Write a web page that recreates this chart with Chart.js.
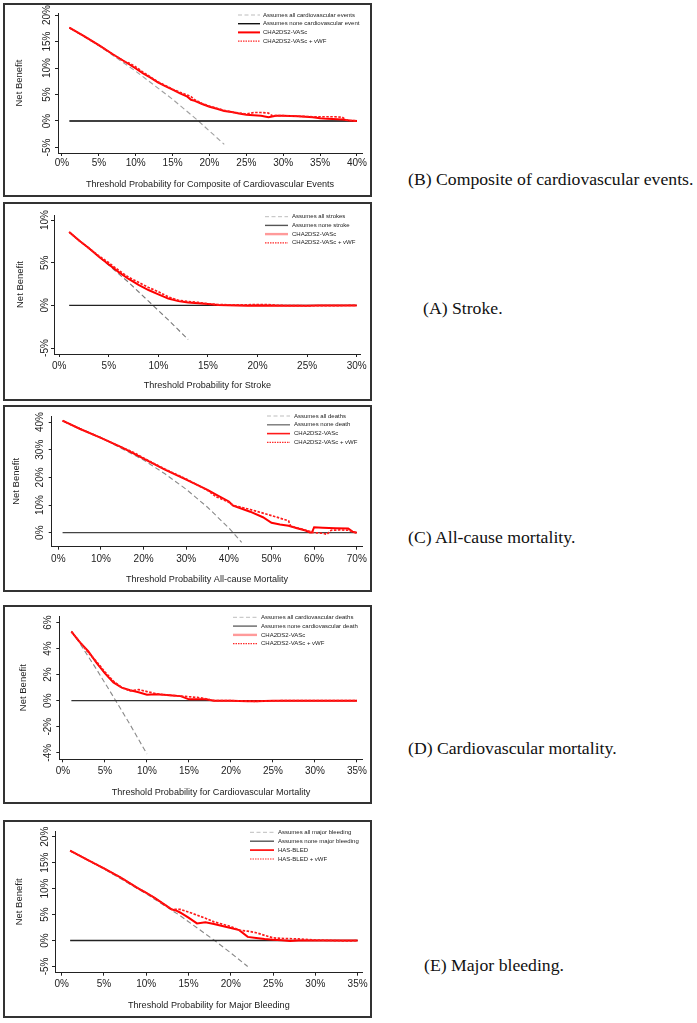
<!DOCTYPE html>
<html>
<head>
<meta charset="utf-8">
<script src="https://cdn.jsdelivr.net/npm/chart.js@4.4.0/dist/chart.umd.min.js"></script>
<style>
  html, body { margin: 0; padding: 0; background: #fff; }
  body { width: 697px; height: 1023px; position: relative; overflow: hidden; }
  .panel { position: absolute; border: 2px solid #333; box-sizing: border-box; }
  .panel canvas { position: absolute; left: 0; top: 0; }
  .caption { position: absolute; font-family: "Liberation Serif", "Times New Roman", serif;
    font-size: 17.7px; line-height: 20px; color: #111; white-space: nowrap; }
</style>
</head>
<body>
<div class="panel" id="pB"><canvas id="cB"></canvas></div>
<div class="panel" id="pA"><canvas id="cA"></canvas></div>
<div class="panel" id="pC"><canvas id="cC"></canvas></div>
<div class="panel" id="pD"><canvas id="cD"></canvas></div>
<div class="panel" id="pE"><canvas id="cE"></canvas></div>

<div class="caption" style="left:408px;top:169px">(B) Composite of cardiovascular events.</div>
<div class="caption" style="left:423px;top:298px">(A) Stroke.</div>
<div class="caption" style="left:408px;top:527px">(C) All-cause mortality.</div>
<div class="caption" style="left:408px;top:738px">(D) Cardiovascular mortality.</div>
<div class="caption" style="left:424px;top:955px">(E) Major bleeding.</div>

<script>
'use strict';

// ---- (B) composite of cardiovascular events ----
var bXTicks = [0, 5, 10, 15, 20, 25, 30, 35, 40];
var bYTicks = [-5, 0, 5, 10, 15, 20];
var bAllX = [1, 5, 10, 15, 18.5, 20, 22];
var bAllY = [17.6, 14.2, 9.4, 4.1, 0, -1.9, -4.4];
var bNoneX = [1, 40];
var bNoneY = [0, 0];
var bScoreX = [1, 3, 5, 7, 9, 10, 11, 12, 13, 14, 15, 16, 17, 17.5, 18, 19, 20, 21, 22, 23, 24, 25, 26, 27, 28, 29, 30, 32, 34, 35, 36, 38, 39, 40];
var bScoreY = [17.6, 16.0, 14.3, 12.5, 10.8, 9.9, 9.0, 8.2, 7.3, 6.6, 5.9, 5.2, 4.6, 4.0, 3.8, 3.2, 2.7, 2.3, 1.9, 1.7, 1.4, 1.2, 1.1, 1.0, 0.7, 1.0, 1.0, 0.9, 0.7, 0.5, 0.4, 0.3, 0.1, 0.0];
var bVwfX = [1, 3, 5, 7, 8.5, 9, 10, 11, 12, 13, 14, 15, 16, 17, 17.5, 18, 19, 20, 21, 22, 23, 24, 25, 26, 27, 28, 28.5, 30, 32, 34, 35, 36, 37, 38, 38.5, 40];
var bVwfY = [17.6, 16.0, 14.3, 12.5, 11.2, 11.0, 10.2, 9.2, 8.3, 7.4, 6.7, 6.0, 5.4, 4.9, 4.6, 4.0, 3.3, 2.8, 2.4, 2.0, 1.7, 1.5, 1.3, 1.6, 1.6, 1.5, 1.0, 1.0, 0.9, 0.8, 0.8, 0.8, 0.8, 0.7, 0.2, 0.0];
var bLegend = ['Assumes all cardiovascular events', 'Assumes none cardiovascular event', 'CHA2DS2-VASc', 'CHA2DS2-VASc + vWF'];

// ---- (A) stroke ----
var aXTicks = [0, 5, 10, 15, 20, 25, 30];
var aYTicks = [-5, 0, 5, 10];
var aAllX = [1, 3, 5, 7, 9, 11, 13];
var aAllY = [8.6, 6.7, 4.7, 2.7, 0.5, -1.7, -4.0];
var aNoneX = [1, 30];
var aNoneY = [0, 0];
var aScoreX = [1, 2, 3, 4, 5, 6, 7, 8, 9, 10, 11, 12, 13, 14, 15, 16, 17, 18, 19, 20, 22, 25, 26, 30];
var aScoreY = [8.6, 7.6, 6.7, 5.7, 4.8, 3.9, 3.1, 2.4, 1.8, 1.3, 0.8, 0.5, 0.35, 0.25, 0.15, 0.05, 0.02, 0, -0.05, 0, -0.05, -0.05, 0, 0];
var aVwfX = [1, 2, 3, 4, 5, 6, 7, 8, 9, 10, 11, 12, 13, 14, 15, 16, 18, 20, 21, 22, 25, 30];
var aVwfY = [8.6, 7.6, 6.7, 5.8, 5.0, 4.1, 3.3, 2.7, 2.1, 1.6, 1.0, 0.6, 0.45, 0.35, 0.2, 0.1, 0.05, 0.1, 0.1, 0, -0.05, 0];
var aLegend = ['Assumes all strokes', 'Assumes none stroke', 'CHA2DS2-VASc', 'CHA2DS2-VASc + vWF'];

// ---- (C) all-cause mortality ----
var cXTicks = [0, 10, 20, 30, 40, 50, 60, 70];
var cYTicks = [0, 10, 20, 30, 40];
var cAllX = [1, 10, 20, 25, 30, 35, 40, 43];
var cAllY = [40.4, 34.4, 26.3, 21.3, 15.7, 9.2, 1.7, -3.5];
var cNoneX = [1, 70];
var cNoneY = [0, 0];
var cScoreX = [1, 5, 10, 15, 20, 25, 30, 35, 37, 40, 41, 45, 48, 50, 52, 54, 56, 58, 59, 59.5, 60, 62, 65, 68, 69, 70];
var cScoreY = [40.5, 37.6, 34.3, 30.8, 26.8, 22.8, 19.2, 15.5, 13.8, 11.3, 9.8, 7.6, 5.6, 3.6, 3.0, 2.5, 1.6, 0.8, 0.1, 0.1, 2.0, 1.8, 1.6, 1.5, 0.4, 0];
var cVwfX = [1, 5, 10, 15, 18, 20, 25, 30, 35, 36, 37, 38, 40, 41, 45, 50, 54, 54.5, 56, 58, 60, 62, 63, 64, 66, 68, 69, 70];
var cVwfY = [40.5, 37.6, 34.3, 30.8, 28.8, 27.0, 23.0, 19.4, 15.3, 14.2, 13.0, 12.4, 11.0, 9.9, 8.4, 6.2, 4.3, 2.4, 1.8, 0.9, 0.0, -0.2, -0.6, 0.9, 1.0, 0.9, 0.3, 0];
var cLegend = ['Assumes all deaths', 'Assumes none death', 'CHA2DS2-VASc', 'CHA2DS2-VASc + vWF'];

// ---- (D) cardiovascular mortality ----
var dXTicks = [0, 5, 10, 15, 20, 25, 30, 35];
var dYTicks = [-4, -2, 0, 2, 4, 6];
var dAllX = [1, 2, 4, 6, 8, 10];
var dAllY = [5.35, 4.4, 2.4, 0.3, -1.85, -4.1];
var dNoneX = [1, 35];
var dNoneY = [0, 0];
var dScoreX = [1, 2, 3, 4, 5, 6, 7, 8, 9, 10, 11, 12, 13, 14, 15, 16, 17, 18, 20, 22, 23, 25, 35];
var dScoreY = [5.3, 4.5, 3.8, 2.9, 2.1, 1.4, 1.0, 0.8, 0.65, 0.45, 0.5, 0.45, 0.4, 0.35, 0.1, 0.1, 0.1, 0.0, 0, -0.05, -0.05, 0, 0];
var dVwfX = [1, 2, 3, 4, 5, 6, 7, 8, 9, 10, 11, 12, 13, 14, 15, 16, 17, 18, 20, 23, 26, 30, 35];
var dVwfY = [5.3, 4.5, 3.7, 3.0, 2.2, 1.5, 1.0, 0.75, 0.85, 0.7, 0.55, 0.45, 0.4, 0.35, 0.3, 0.25, 0.15, 0.0, 0, -0.05, 0, 0, 0];
var dLegend = ['Assumes all cardiovascular deaths', 'Assumes none cardiovascular death', 'CHA2DS2-VASc', 'CHA2DS2-VASc + vWF'];

// ---- (E) major bleeding ----
var eXTicks = [0, 5, 10, 15, 20, 25, 30, 35];
var eYTicks = [-5, 0, 5, 10, 15, 20];
var eAllX = [1, 5, 10, 14, 18, 20, 22];
var eAllY = [17.3, 13.8, 9.0, 4.8, 0.1, -2.4, -5.0];
var eNoneX = [1, 35];
var eNoneY = [0, 0];
var eScoreX = [1, 3, 5, 7, 9, 10, 11, 12, 13, 13.5, 14, 15, 16, 17, 18, 19, 20, 21, 22, 23, 24, 25, 26, 27, 28, 35];
var eScoreY = [17.3, 15.6, 13.9, 12.1, 10.1, 9.2, 8.2, 7.1, 6.0, 5.8, 5.4, 4.4, 3.3, 3.5, 3.2, 2.8, 2.4, 2.0, 0.7, 0.5, 0.3, 0.15, 0.05, -0.1, 0, 0];
var eVwfX = [1, 3, 5, 7, 9, 10, 11, 12, 13, 14, 15, 16, 17, 18, 20, 21, 22, 23, 24, 25, 26, 28, 30, 32, 34, 35];
var eVwfY = [17.3, 15.6, 13.9, 12.1, 10.1, 9.2, 8.2, 7.1, 6.0, 6.0, 5.5, 4.9, 4.3, 3.6, 2.7, 2.0, 1.8, 1.5, 1.0, 0.5, 0.4, 0.3, 0.1, 0, -0.1, 0];
var eLegend = ['Assumes all major bleeding', 'Assumes none major bleeding', 'HAS-BLED', 'HAS-BLED + vWF'];

var FONT = '"Liberation Sans", Arial, sans-serif';
Chart.defaults.font.family = FONT;
Chart.defaults.color = '#222';

function pts(xs, ys) {
  return xs.map(function (x, i) { return { x: x, y: ys[i] }; });
}

// legend drawn inside the plot, R style
var dcaLegend = {
  id: 'dcaLegend',
  afterDraw: function (chart, args, opts) {
    var ctx = chart.ctx;
    ctx.save();
    ctx.font = opts.size + 'px ' + FONT;
    ctx.textBaseline = 'middle';
    for (var i = 0; i < opts.labels.length; i++) {
      var y = opts.top + i * opts.rowH;
      ctx.beginPath();
      ctx.strokeStyle = opts.colors[i];
      ctx.lineWidth = opts.widths[i];
      ctx.setLineDash(opts.dashes[i]);
      ctx.moveTo(opts.left, y);
      ctx.lineTo(opts.left + opts.sampleW, y);
      ctx.stroke();
      ctx.setLineDash([]);
      ctx.fillStyle = '#222';
      ctx.fillText(opts.labels[i], opts.left + opts.sampleW + opts.gap, y);
    }
    ctx.restore();
  }
};

function makePanel(p) {
  var box = document.getElementById('p' + p.id);
  var w = p.box[2] - p.box[0], h = p.box[3] - p.box[1];
  box.style.left = p.box[0] + 'px';
  box.style.top = p.box[1] + 'px';
  box.style.width = w + 'px';
  box.style.height = h + 'px';
  var ox = p.box[0] + 2, oy = p.box[1] + 2;
  var cw = w - 4, ch = h - 4;
  var canvas = document.getElementById('c' + p.id);
  canvas.width = cw;
  canvas.height = ch;

  var caL = p.area[0] - ox, caR = p.area[1] - ox, caT = p.area[2] - oy, caB = p.area[3] - oy;
  var tl = 3;
  var titleSize = 9.1;
  var lh = titleSize * 1.2;
  var axisColor = '#222';

  new Chart(canvas, {
    type: 'line',
    data: {
      datasets: [
        { data: pts(p.vwfX, p.vwfY), borderColor: '#ff1a1a', borderWidth: 1.7, borderDash: [2.5, 1.5], order: 0 },
        { data: pts(p.scoreX, p.scoreY), borderColor: '#ff0000', borderWidth: 2, order: 1 },
        { data: pts(p.noneX, p.noneY), borderColor: p.noneColor, borderWidth: 1.3, order: 2 },
        { data: pts(p.allX, p.allY), borderColor: p.allColor, borderWidth: 1.1, borderDash: [5, 3], order: 3 }
      ]
    },
    options: {
      responsive: false,
      animation: false,
      events: [],
      elements: { point: { radius: 0 }, line: { tension: 0, fill: false } },
      layout: { padding: { top: caT, right: cw - caR, left: 0, bottom: 0 } },
      plugins: {
        legend: { display: false },
        tooltip: { enabled: false },
        dcaLegend: {
          left: p.leg.left - ox, top: p.leg.top - oy, rowH: p.leg.rowH,
          sampleW: p.leg.sampleW, gap: p.leg.gap, size: 6,
          labels: p.legend,
          colors: ['#bdbdbd', p.legNone, p.legScore, '#ff2a2a'],
          widths: [1, 1.4, p.legScoreW, 1.2],
          dashes: [[4, 2.5], [], [], [1.5, 1]]
        }
      },
      scales: {
        x: {
          type: 'linear',
          min: p.xRange[0], max: p.xRange[1],
          afterBuildTicks: function (s) { s.ticks = p.xTicks.map(function (v) { return { value: v }; }); },
          afterFit: function (s) { s.height = ch - caB; },
          grid: { drawOnChartArea: false, drawTicks: true, tickLength: tl, color: axisColor },
          border: { display: true, color: axisColor, width: 1 },
          ticks: { font: { size: 10 }, padding: p.xTickPad, maxRotation: 0, autoSkip: false,
            callback: function (v) { return v + '%'; } },
          title: { display: true, text: p.xTitle, font: { size: titleSize }, color: '#222',
            padding: { top: 0, bottom: ch - (p.xTitleY - oy) - lh / 2 } }
        },
        y: {
          type: 'linear',
          min: p.yRange[0], max: p.yRange[1],
          afterBuildTicks: function (s) { s.ticks = p.yTicks.map(function (v) { return { value: v }; }); },
          afterFit: function (s) { s.width = caL; },
          grid: { drawOnChartArea: false, drawTicks: true, tickLength: tl, color: axisColor },
          border: { display: true, color: axisColor, width: 1 },
          ticks: { font: { size: 10 }, padding: p.yTickPad, minRotation: 90, maxRotation: 90,
            crossAlign: 'center', autoSkip: false,
            callback: function (v) { return v + '%'; } },
          title: { display: true, text: 'Net Benefit', font: { size: 9.5 }, color: '#222',
            padding: { top: (p.yTitleX - ox) - 5.7, bottom: 0 } }
        }
      }
    },
    plugins: [dcaLegend]
  });
}

makePanel({
  id: 'B', box: [3, 3, 372, 197], area: [58, 362, 13, 153],
  xRange: [-0.54, 40.68], yRange: [-6.04, 20.38], xTicks: bXTicks, yTicks: bYTicks,
  xTickPad: 1.5, yTickPad: -2, yTitleX: 19, xTitleY: 184,
  xTitle: 'Threshold Probability for Composite of Cardiovascular Events',
  allX: bAllX, allY: bAllY, noneX: bNoneX, noneY: bNoneY,
  scoreX: bScoreX, scoreY: bScoreY, vwfX: bVwfX, vwfY: bVwfY,
  allColor: '#a0a0a0', noneColor: '#000',
  legend: bLegend, legNone: '#111', legScore: '#ff0000', legScoreW: 2,
  leg: { left: 238, top: 15, rowH: 8.7, sampleW: 22, gap: 3 }
});

makePanel({
  id: 'A', box: [3, 202, 372, 401], area: [54, 361.7, 215, 354],
  xRange: [-0.53, 30.4], yRange: [-5.7, 10.6], xTicks: aXTicks, yTicks: aYTicks,
  xTickPad: 3.2, yTickPad: -4, yTitleX: 20, xTitleY: 385,
  xTitle: 'Threshold Probability for Stroke',
  allX: aAllX, allY: aAllY, noneX: aNoneX, noneY: aNoneY,
  scoreX: aScoreX, scoreY: aScoreY, vwfX: aVwfX, vwfY: aVwfY,
  allColor: '#7a7a7a', noneColor: '#222',
  legend: aLegend, legNone: '#555', legScore: '#ff9a9a', legScoreW: 2.4,
  leg: { left: 265, top: 216.7, rowH: 8.7, sampleW: 23, gap: 4 }
});

makePanel({
  id: 'C', box: [3, 405, 372, 592], area: [51.7, 362.7, 416, 546.7],
  xRange: [-1.55, 71.3], yRange: [-5.06, 42.2], xTicks: cXTicks, yTicks: cYTicks,
  xTickPad: 3.1, yTickPad: -1.3, yTitleX: 16.7, xTitleY: 579,
  xTitle: 'Threshold Probability All-cause Mortality',
  allX: cAllX, allY: cAllY, noneX: cNoneX, noneY: cNoneY,
  scoreX: cScoreX, scoreY: cScoreY, vwfX: cVwfX, vwfY: cVwfY,
  allColor: '#8a8a8a', noneColor: '#444',
  legend: cLegend, legNone: '#777', legScore: '#ff1a1a', legScoreW: 1.6,
  leg: { left: 267, top: 416, rowH: 8.8, sampleW: 23, gap: 4 }
});

makePanel({
  id: 'D', box: [3, 605, 372, 804], area: [59.3, 363.3, 616, 759.3],
  xRange: [-0.44, 35.7], yRange: [-4.5, 6.5], xTicks: dXTicks, yTicks: dYTicks,
  xTickPad: 2.9, yTickPad: -0.9, yTitleX: 23.3, xTitleY: 792.7,
  xTitle: 'Threshold Probability for Cardiovascular Mortality',
  allX: dAllX, allY: dAllY, noneX: dNoneX, noneY: dNoneY,
  scoreX: dScoreX, scoreY: dScoreY, vwfX: dVwfX, vwfY: dVwfY,
  allColor: '#8a8a8a', noneColor: '#333',
  legend: dLegend, legNone: '#666', legScore: '#ff9a9a', legScoreW: 2.4,
  leg: { left: 233, top: 617.3, rowH: 8.8, sampleW: 24, gap: 4 }
});

makePanel({
  id: 'E', box: [3, 820, 372, 1018], area: [55, 362.7, 831, 972.7],
  xRange: [-0.79, 35.6], yRange: [-6.2, 21.1], xTicks: eXTicks, yTicks: eYTicks,
  xTickPad: 2.1, yTickPad: -3, yTitleX: 19, xTitleY: 1005,
  xTitle: 'Threshold Probability for Major Bleeding',
  allX: eAllX, allY: eAllY, noneX: eNoneX, noneY: eNoneY,
  scoreX: eScoreX, scoreY: eScoreY, vwfX: eVwfX, vwfY: eVwfY,
  allColor: '#888', noneColor: '#222',
  legend: eLegend, legNone: '#555', legScore: '#ff1a1a', legScoreW: 1.8,
  leg: { left: 250, top: 832.3, rowH: 8.9, sampleW: 24, gap: 4 }
});
</script>
</body>
</html>
